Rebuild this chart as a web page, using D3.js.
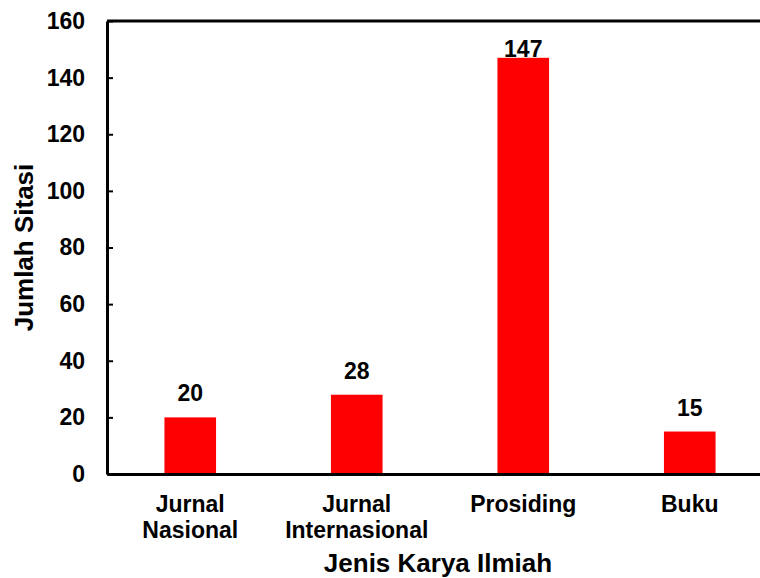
<!DOCTYPE html>
<html>
<head>
<meta charset="utf-8">
<script src="https://cdn.jsdelivr.net/npm/d3@7"></script>
<style>
  html, body { margin: 0; padding: 0; background: #fff; }
  svg { display: block; font-family: "Liberation Sans", Arial, sans-serif; font-weight: bold; }
</style>
</head>
<body>
<div id="chart"></div>
<script>
// data
var categories = ["Jurnal Nasional", "Jurnal Internasional", "Prosiding", "Buku"];
var categoryLines = [["Jurnal", "Nasional"], ["Jurnal", "Internasional"], ["Prosiding"], ["Buku"]];
var citations = [20, 28, 147, 15];
var yTicks = [0, 20, 40, 60, 80, 100, 120, 140, 160];

var margin = { top: 21, right: 0, bottom: 104, left: 107 },
    width = 666,
    height = 578 - margin.top - margin.bottom;

var svg = d3.select("#chart")
    .append("svg")
    .attr("width", 760)
    .attr("height", 578)
    .append("g")
    .attr("transform", "translate(" + margin.left + "," + margin.top + ")");

// scales
var x = d3.scaleBand().domain(categories).range([0, width]).paddingInner(0.69).paddingOuter(0.345);
var y = d3.scaleLinear().domain([0, 160]).range([height, 0]);

// bars
svg.selectAll(".bar")
    .data(citations)
    .enter()
    .append("rect")
    .attr("class", "bar")
    .attr("x", function (d, i) { return x(categories[i]); })
    .attr("width", x.bandwidth())
    .attr("y", function (d) { return y(d); })
    .attr("height", function (d) { return height - y(d); })
    .attr("fill", "#ff0000");

// value labels (pushed down onto the bar when there is no room above)
svg.selectAll(".val")
    .data(citations)
    .enter()
    .append("text")
    .attr("class", "val")
    .attr("text-anchor", "middle")
    .style("font-size", "23px")
    .attr("x", function (d, i) { return x(categories[i]) + x.bandwidth() / 2; })
    .attr("y", function (d) { return y(d) - 16 < 21 ? y(d) - 1 : y(d) - 16; })
    .text(function (d) { return d; });

// y axis
var yAxis = d3.axisLeft(y).tickValues(yTicks).tickSizeInner(-6).tickSizeOuter(0).tickPadding(22);
var gy = svg.append("g").attr("class", "yAxis").call(yAxis);
gy.select(".domain").attr("stroke", "#000").attr("stroke-width", 3);
gy.selectAll(".tick line").attr("stroke", "#000").attr("stroke-width", 2);
gy.selectAll(".tick text")
    .attr("fill", "#000")
    .style("font-size", "23px")
    .style("font-family", "Liberation Sans, Arial, sans-serif")
    .style("font-weight", "bold");

// x axis
var xAxis = d3.axisBottom(x).tickSize(0).tickSizeOuter(0).tickFormat("");
var gx = svg.append("g").attr("class", "xAxis")
    .attr("transform", "translate(0," + height + ")")
    .call(xAxis);
gx.select(".domain").attr("stroke", "#000").attr("stroke-width", 3);
gx.selectAll(".tick").each(function (d, i) {
    var t = d3.select(this).append("text")
        .attr("fill", "#000")
        .attr("text-anchor", "middle")
        .style("font-size", "23px")
        .style("font-family", "Liberation Sans, Arial, sans-serif")
        .style("font-weight", "bold");
    categoryLines[i].forEach(function (line, k) {
        t.append("tspan").attr("x", 0).attr("y", 38 + k * 26).text(line);
    });
});

// top border
svg.append("line")
    .attr("x1", 0).attr("x2", width)
    .attr("y1", 0).attr("y2", 0)
    .attr("stroke", "#000")
    .attr("stroke-width", 3);

// x axis title
svg.append("text")
    .attr("text-anchor", "middle")
    .style("font-size", "26px")
    .attr("x", 331)
    .attr("y", height + 98)
    .text("Jenis Karya Ilmiah");

// y axis title
svg.append("text")
    .attr("text-anchor", "middle")
    .attr("transform", "rotate(-90)")
    .style("font-size", "26px")
    .attr("x", -(height / 2))
    .attr("y", -74)
    .text("Jumlah Sitasi");
</script>
</body>
</html>
